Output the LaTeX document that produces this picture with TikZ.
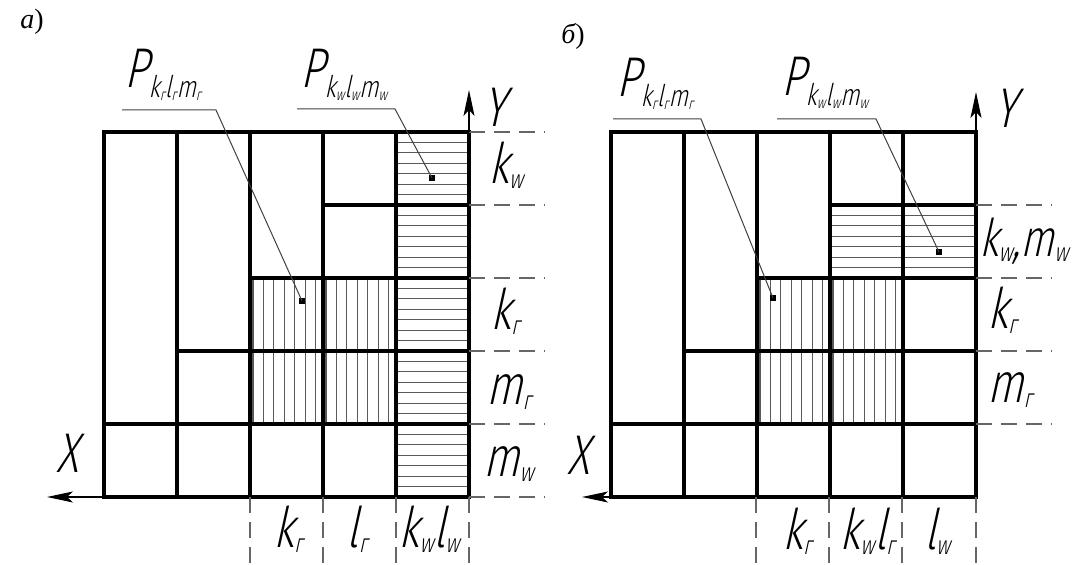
\documentclass[tikz,border=0pt]{standalone}
\usepackage{fontspec}
\usetikzlibrary{arrows.meta}
\newfontfamily\gost[FakeSlant=0.22,FakeStretch=0.76]{Fira Sans Light}
\newfontfamily\capfont{Liberation Serif}
\newcommand\idx[1]{\raisebox{-2.5pt}{\fontsize{13}{13}\selectfont #1}}
\newcommand\pidx[1]{\raisebox{-5pt}{\fontsize{15}{15}\selectfont #1}}
\newcommand\tidx[1]{\raisebox{-1.5pt}{\fontsize{8}{8}\selectfont #1}}

\begin{document}
\begin{tikzpicture}[x=0.5pt, y=-0.5pt,
    every node/.style={inner sep=0pt, font=\gost\fontsize{28}{28}\selectfont},
    cellline/.style={line width=1.6pt},
    hatchline/.style={line width=0.6pt, black!65},
    extline/.style={line width=0.6pt, black!60, dash pattern=on 8pt off 4.5pt},
    leaderline/.style={line width=0.5pt, black!75},
    axisline/.style={line width=0.6pt, arrows={-Stealth[length=13pt,width=5.5pt,inset=3pt]}},
    tipdot/.style={fill, minimum size=3pt, inner sep=0pt}]
    \useasboundingbox (0,0) rectangle (1072,565);

    \foreach \i in {0,...,13} \draw[hatchline] (253+\i*10.43,278) -- (253+\i*10.43,424);
    \foreach \i in {1,...,34} \draw[hatchline] (396,132+\i*10.43) -- (469,132+\i*10.43);
    \foreach \i in {0,...,13} \draw[hatchline] (760+\i*10.43,278) -- (760+\i*10.43,424);
    \foreach \i in {1,...,6} \draw[hatchline] (829,205+\i*10.43) -- (976,205+\i*10.43);

    \foreach \ox in {104,611} {
      \draw[cellline] (\ox,132) rectangle (\ox+365,497);
      \foreach \c in {1,...,4} \draw[cellline] (\ox+\c*73,132) -- (\ox+\c*73,497);
      \foreach \r in {1,...,4} \draw[cellline] (\ox+\r*73-73,497-\r*73) -- (\ox+365,497-\r*73);
    }

    \foreach \y in {132,205,278,351,424,497} \draw[extline] (469,\y) -- (545,\y);
    \foreach \y in {205,278,351,424} \draw[extline] (976,\y) -- (1052,\y);
    \foreach \x in {250,323,396,469} \draw[extline] (\x,497) -- (\x,565);
    \foreach \x in {756,829,902,976} \draw[extline] (\x,497) -- (\x,565);

    \coordinate (ya0) at (469,132);
    \coordinate (ya1) at (469,90);
    \coordinate (xa0) at (104,497);
    \coordinate (xa1) at (47,497);
    \coordinate (yb0) at (976,132);
    \coordinate (yb1) at (976,92);
    \coordinate (xb0) at (611,497);
    \coordinate (xb1) at (582,497);
    \draw[axisline] (ya0) -- (ya1);
    \draw[axisline] (xa0) -- (xa1);
    \draw[axisline] (yb0) -- (yb1);
    \draw[axisline] (xb0) -- (xb1);

    \node (capa) at (32,22) {\capfont\fontsize{14}{14}\selectfont{\itshape а})};
    \node (capb) at (573,36) {\capfont\fontsize{14}{14}\selectfont{\itshape б})};

    \node (ylaba) at (495,107) {Y};
    \node (xlaba) at (67,453) {X};
    \node (ylabb) at (1006,108) {Y};
    \node (xlabb) at (578,455) {X};

    \node[anchor=base west] (kwa) at (488,184) {k\idx{w}};
    \node[anchor=base west] (kga) at (490,330) {k\idx{г}};
    \node[anchor=base west] (mga) at (486,405) {m\idx{г}};
    \node[anchor=base west] (mwa) at (483,477) {m\idx{w}};
    \node[anchor=base west, font=\gost\fontsize{26}{26}\selectfont] (kwmwb) at (979,257) {k\idx{w},m\idx{w}};
    \node[anchor=base west] (kgb) at (987,329) {k\idx{г}};
    \node[anchor=base west] (mgb) at (987,403) {m\idx{г}};

    \node[anchor=base] (kgxa) at (288,548) {k\idx{г}};
    \node[anchor=base] (lgxa) at (357,548) {l\idx{г}};
    \node[anchor=base] (kwlwa) at (429,548) {k\idx{w}l\idx{w}};
    \node[anchor=base] (kgxb) at (797,550) {k\idx{г}};
    \node[anchor=base] (kwlgb) at (867,550) {k\idx{w}l\idx{г}};
    \node[anchor=base] (lwxb) at (937,550) {l\idx{w}};

    \node[anchor=base west] (pa1) at (124,88) {P\pidx{k\tidx{г}l\tidx{г}m\tidx{г}}};
    \node[anchor=base west] (pa2) at (300,88) {P\pidx{k\tidx{w}l\tidx{w}m\tidx{w}}};
    \node[anchor=base west] (pb1) at (616,97) {P\pidx{k\tidx{г}l\tidx{г}m\tidx{г}}};
    \node[anchor=base west] (pb2) at (781,96) {P\pidx{k\tidx{w}l\tidx{w}m\tidx{w}}};

    \coordinate (la1s) at (122,110);
    \coordinate (la1b) at (216,110);
    \coordinate (la2s) at (297,109);
    \coordinate (la2b) at (395,109);
    \coordinate (lb1s) at (613,119);
    \coordinate (lb1b) at (701,119);
    \coordinate (lb2s) at (777,119);
    \coordinate (lb2b) at (876,119);
    \node[tipdot] (da1) at (302,301) {};
    \node[tipdot] (da2) at (432,178) {};
    \node[tipdot] (db1) at (773,298) {};
    \node[tipdot] (db2) at (939,252) {};
    \draw[leaderline] (la1s) -- (la1b) -- (da1.center);
    \draw[leaderline] (la2s) -- (la2b) -- (da2.center);
    \draw[leaderline] (lb1s) -- (lb1b) -- (db1.center);
    \draw[leaderline] (lb2s) -- (lb2b) -- (db2.center);
  \end{tikzpicture}
\end{document}
